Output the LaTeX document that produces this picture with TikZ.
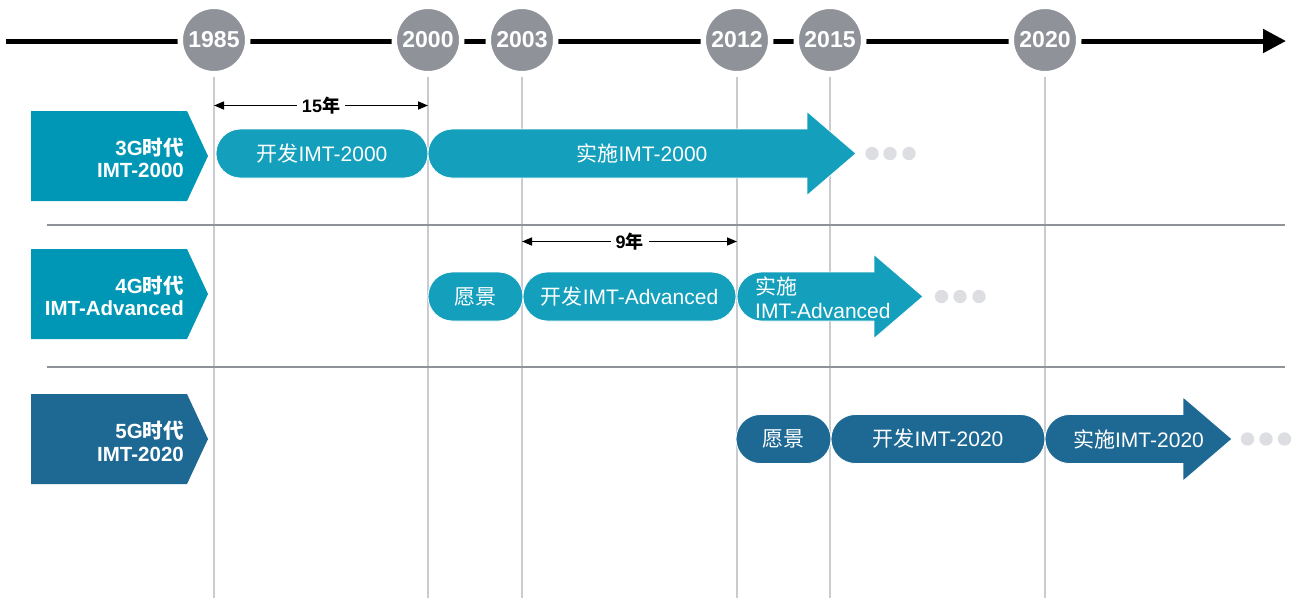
\documentclass[tikz,border=0pt]{standalone}
\usepackage{fontspec}
\setmainfont{Liberation Sans}
\newfontfamily\cjk{Noto Sans CJK SC}
\newcommand\zh[1]{{\cjk #1}}
\usetikzlibrary{arrows.meta,shapes.misc,calc}
\definecolor{tealdark}{HTML}{0097B6}
\definecolor{teallight}{HTML}{14A0BC}
\definecolor{navy}{HTML}{1D6993}
\definecolor{yeargray}{HTML}{8F9399}
\definecolor{vgray}{HTML}{C9CBCF}
\definecolor{dotgray}{HTML}{DDDEE2}
\newcommand\implarrow[5]{% color, x0, yc, body end, tip
  \fill[#1, draw=white, line width=0.8pt] (#2+24.5,#3-24.5) -- (#4,#3-24.5) -- (#4,#3-42) -- (#5,#3) -- (#4,#3+42) -- (#4,#3+24.5) -- (#2+24.5,#3+24.5) arc[start angle=90, end angle=270, radius=24.5] -- cycle;}
\newcommand\pentagon[3]{% color, top, bottom
  \fill[#1] (31,#2) -- (187,#2) -- (208,{(#2+#3)/2}) -- (187,#3) -- (31,#3) -- cycle;}
\newcommand\moredots[4]{% y, x1, x2, x3
  \fill[dotgray] (#2,#1) circle[radius=6.7] (#3,#1) circle[radius=6.7] (#4,#1) circle[radius=6.7];}
\begin{document}
\begin{tikzpicture}[x=1pt,y=-1pt,
  yearnode/.style={circle, fill=yeargray, draw=white, line width=5.5pt, minimum size=67.5pt, inner sep=0pt, text=white, font=\fontsize{23}{26}\selectfont\bfseries},
  vline/.style={draw=vgray, line width=1.8pt},
  sepline/.style={draw=yeargray, line width=2.5pt},
  era/.style={text=white, font=\fontsize{20.5}{22.5}\selectfont\bfseries, align=right, anchor=east, inner sep=0pt},
  pill/.style={rounded rectangle, fill=#1, draw=white, line width=0.8pt, minimum height=49pt, inner sep=0pt, text=white, font=\fontsize{21}{24}\selectfont},
  ptext/.style={text=white, font=\fontsize{21}{24}\selectfont, inner sep=0pt},
  dim/.style={draw=black, line width=1.5pt, {Triangle[length=10pt,width=8pt]}-{Triangle[length=10pt,width=8pt]}},
  dimlabel/.style={fill=white, inner xsep=5pt, inner ysep=1pt, font=\fontsize{18}{20}\selectfont\bfseries},
  mainline/.style={draw=black, line width=5pt, -{Triangle[length=23pt,width=23pt]}}
]
\useasboundingbox (0,0) rectangle (1299,598);
\coordinate (bottom) at (0,598);
\coordinate (tlstart) at (6,41);
\coordinate (tlend) at (1286,41);
% timeline
\draw[mainline] (tlstart) -- (tlend);
\node[yearnode] (y1985) at (214,40) {1985};
\node[yearnode] (y2000) at (428,40) {2000};
\node[yearnode] (y2003) at (522,40) {2003};
\node[yearnode] (y2012) at (737,40) {2012};
\node[yearnode] (y2015) at (830,40) {2015};
\node[yearnode] (y2020) at (1045,40) {2020};
% vertical guide lines
\foreach \n in {y1985,y2000,y2003,y2012,y2015,y2020}
  \draw[vline] (\n.south) -- (\n.south |- bottom);
% separators
\coordinate (s1a) at (47,225); \coordinate (s1b) at (1285,225);
\coordinate (s2a) at (47,367); \coordinate (s2b) at (1285,367);
\draw[sepline] (s1a) -- (s1b);
\draw[sepline] (s2a) -- (s2b);
% dimension arrows
\coordinate (d15a) at (214,105.5); \coordinate (d15b) at (428,105.5);
\draw[dim] (d15a) -- node[dimlabel] (l15) {15\zh{年}} (d15b);
\coordinate (d9a) at (522,241.5); \coordinate (d9b) at (737,241.5);
\draw[dim] (d9a) -- node[dimlabel] (l9) {9\zh{年}} (d9b);
% era labels
\pentagon{tealdark}{111}{201}
\node[era] (era3g) at (184,158) {3G\zh{时代}\\IMT-2000};
\pentagon{tealdark}{249}{339}
\node[era] (era4g) at (184,296) {4G\zh{时代}\\IMT-Advanced};
\pentagon{navy}{394}{484}
\node[era] (era5g) at (184,441.5) {5G\zh{时代}\\IMT-2020};
% row 1
\node[pill=teallight, minimum width=212pt] (dev3g) at (322,153.5) {\zh{开发}IMT-2000};
\implarrow{teallight}{428}{153.5}{807}{856}
\node[ptext] (impl3g) at (642,153.5) {\zh{实施}IMT-2000};
\moredots{153.5}{872}{890}{909}
% row 2
\node[pill=teallight, minimum width=95pt] (vis4g) at (475.5,296.5) {\zh{愿景}};
\node[pill=teallight, minimum width=213pt] (dev4g) at (629.5,296.5) {\zh{开发}IMT-Advanced};
\implarrow{teallight}{737}{296.5}{874}{923}
\node[ptext, align=left, anchor=west] (impl4g) at (755,298) {\zh{实施}\\IMT-Advanced};
\moredots{296.5}{941.5}{960}{979}
% row 3
\node[pill=navy, minimum width=95pt] (vis5g) at (783.5,439) {\zh{愿景}};
\node[pill=navy, minimum width=214pt] (dev5g) at (938,439) {\zh{开发}IMT-2020};
\implarrow{navy}{1045}{439}{1183}{1232}
\node[ptext] (impl5g) at (1138.5,439) {\zh{实施}IMT-2020};
\moredots{439}{1247.5}{1266}{1284.5}
\end{tikzpicture}
\end{document}
